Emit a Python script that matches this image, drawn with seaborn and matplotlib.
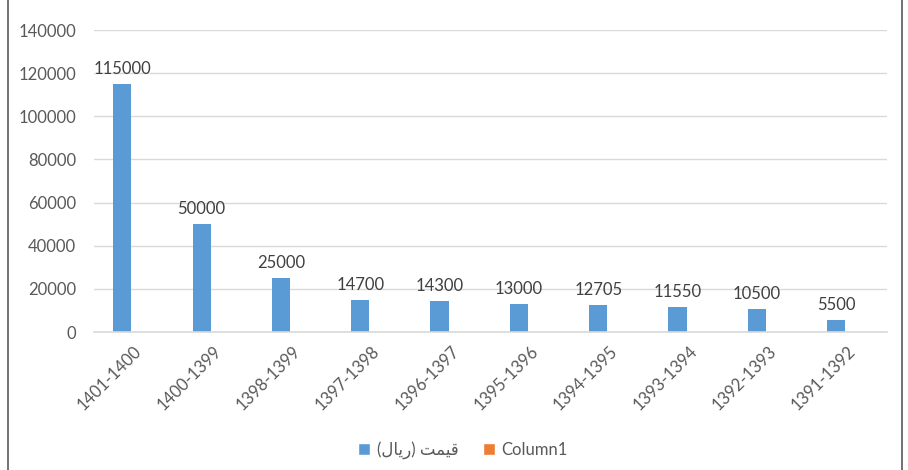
import matplotlib
matplotlib.use("Agg")
import matplotlib.pyplot as plt
from matplotlib.lines import Line2D
from matplotlib.patches import Patch
import seaborn as sns
import pandas as pd

# Persian labels written in visual (left-to-right) order with Arabic presentation forms,
# since matplotlib does not shape or reorder right-to-left text.
SERIES_PRICE = "(\uFEDD\uFE8E\uFEF3\uFEAD) \uFE96\uFEE4\uFEF4\uFED7"  # قیمت (ریال)
SERIES_EMPTY = "Column1"

periods = ["1401-1400", "1400-1399", "1398-1399", "1397-1398", "1396-1397",
           "1395-1396", "1394-1395", "1393-1394", "1392-1393", "1391-1392"]
prices = [115000, 50000, 25000, 14700, 14300, 13000, 12705, 11550, 10500, 5500]
column1 = [0] * len(periods)

df = pd.DataFrame({
    "period": periods * 2,
    "series": [SERIES_PRICE] * len(periods) + [SERIES_EMPTY] * len(periods),
    "value": prices + column1,
})

sns.set_theme(style="white")
plt.rcParams["font.family"] = ["Lato", "DejaVu Sans"]

BLUE = "#5B9BD5"
ORANGE = "#ED7D31"
TXT = "#595959"
GRID = "#D9D9D9"

fig = plt.figure(figsize=(9.08, 4.70), dpi=100)
ax = fig.add_axes([0.1035, 0.2936, 0.8735, 0.6424])

sns.barplot(data=df, x="period", y="value", hue="series",
            hue_order=[SERIES_PRICE, SERIES_EMPTY], order=periods,
            palette=[BLUE, ORANGE], saturation=1, width=0.572, gap=0.2,
            linewidth=0, errorbar=None, legend=False, ax=ax)

ax.set_ylim(0, 140000)
ax.set_yticks(range(0, 140001, 20000))
ax.set_xlim(-0.5, len(periods) - 0.5)
ax.yaxis.grid(True, color=GRID, linewidth=1)
ax.set_axisbelow(True)
for side in ["top", "right", "left"]:
    ax.spines[side].set_visible(False)
ax.spines["bottom"].set_color(GRID)
ax.spines["bottom"].set_linewidth(1.2)
ax.set_xlabel("")
ax.set_ylabel("")

ax.tick_params(axis="y", length=0, pad=13, labelsize=12, labelcolor=TXT)
ax.tick_params(axis="x", length=0, pad=8, labelsize=12, labelcolor=TXT)
plt.setp(ax.get_xticklabels(), rotation=45, ha="right", rotation_mode="anchor")

# value labels on the price bars
ax.bar_label(ax.containers[0], labels=[str(v) for v in prices],
             padding=5, fontsize=12, color="#404040")

handles = [Patch(facecolor=BLUE, label=SERIES_PRICE),
           Patch(facecolor=ORANGE, label=SERIES_EMPTY)]
fig.legend(handles=handles, loc="center", bbox_to_anchor=(0.51, 0.042),
           ncol=2, frameon=False, fontsize=12, labelcolor=TXT,
           handlelength=0.7, handleheight=0.7, handletextpad=0.4,
           columnspacing=1.5)

# chart area frame edges
fig.add_artist(Line2D([0.009, 0.009], [0, 1], color="#595959", linewidth=1.2,
                      transform=fig.transFigure))
fig.add_artist(Line2D([0.9935, 0.9935], [0, 1], color="#595959", linewidth=1.2,
                      transform=fig.transFigure))

fig.savefig("out.png", dpi=100)
